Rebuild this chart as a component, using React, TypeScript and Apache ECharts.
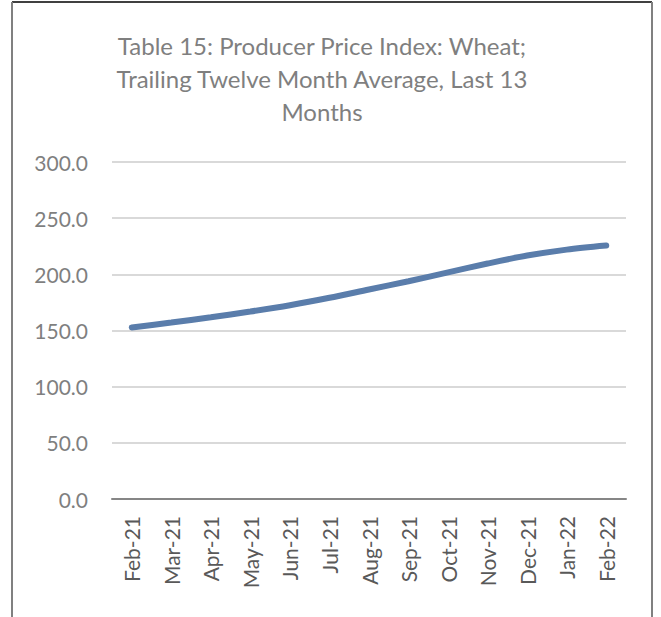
import React, { useEffect, useRef } from "react";
import * as echarts from "echarts";

const categories = ["Feb-21", "Mar-21", "Apr-21", "May-21", "Jun-21", "Jul-21", "Aug-21", "Sep-21", "Oct-21", "Nov-21", "Dec-21", "Jan-22", "Feb-22"];
const ppiValues = [152.7, 157.1, 161.8, 166.9, 172.5, 179.1, 186.5, 193.8, 201.8, 209.6, 216.7, 222.0, 225.6];
const titleText = "Table 15: Producer Price Index: Wheat;\nTrailing Twelve Month Average, Last 13\nMonths";

export default function App() {
  const ref = useRef<HTMLDivElement>(null);
  useEffect(() => {
    if (!ref.current) return;
    const chart = echarts.init(ref.current, null, { renderer: "svg" });
    const font = "Lato, 'Open Sans', sans-serif";
    chart.setOption({
      animation: false,
      backgroundColor: "#ffffff",
      title: {
        text: titleText,
        left: 317,
        textAlign: "center",
        top: 24,
        textStyle: {
          fontFamily: font,
          fontWeight: "normal",
          fontSize: 24,
          color: "#7f7f7f",
          lineHeight: 33,
        },
      },
      graphic: [
        { type: "line", shape: { x1: 12, y1: 2, x2: 652, y2: 2 }, style: { stroke: "#404040", lineWidth: 2 } },
        { type: "line", shape: { x1: 12, y1: 2, x2: 12, y2: 617 }, style: { stroke: "#808080", lineWidth: 2 } },
        { type: "line", shape: { x1: 652, y1: 2, x2: 652, y2: 617 }, style: { stroke: "#808080", lineWidth: 2 } },
      ],
      grid: { left: 112, right: 35, top: 162, bottom: 118 },
      xAxis: {
        type: "category",
        data: categories,
        boundaryGap: true,
        axisLine: { lineStyle: { color: "#868686", width: 2 } },
        axisTick: { show: false },
        axisLabel: {
          rotate: 90,
          margin: 17,
          fontFamily: font,
          fontSize: 21,
          color: "#595959",
        },
      },
      yAxis: {
        type: "value",
        min: 0,
        max: 300,
        interval: 50,
        axisLine: { show: false },
        axisTick: { show: false },
        splitLine: { lineStyle: { color: "#d9d9d9", width: 2 } },
        axisLabel: {
          margin: 24,
          fontFamily: font,
          fontSize: 21,
          color: "#7f7f7f",
          formatter: (v: number) => v.toFixed(1),
        },
      },
      series: [
        {
          type: "line",
          data: ppiValues,
          smooth: 0.3,
          symbol: "none",
          lineStyle: { color: "#5a7dab", width: 6, cap: "round" },
        },
      ],
    });
    return () => chart.dispose();
  }, []);
  return <div ref={ref} style={{ position: "absolute", left: 0, top: 0, width: 661, height: 617 }} />;
}
